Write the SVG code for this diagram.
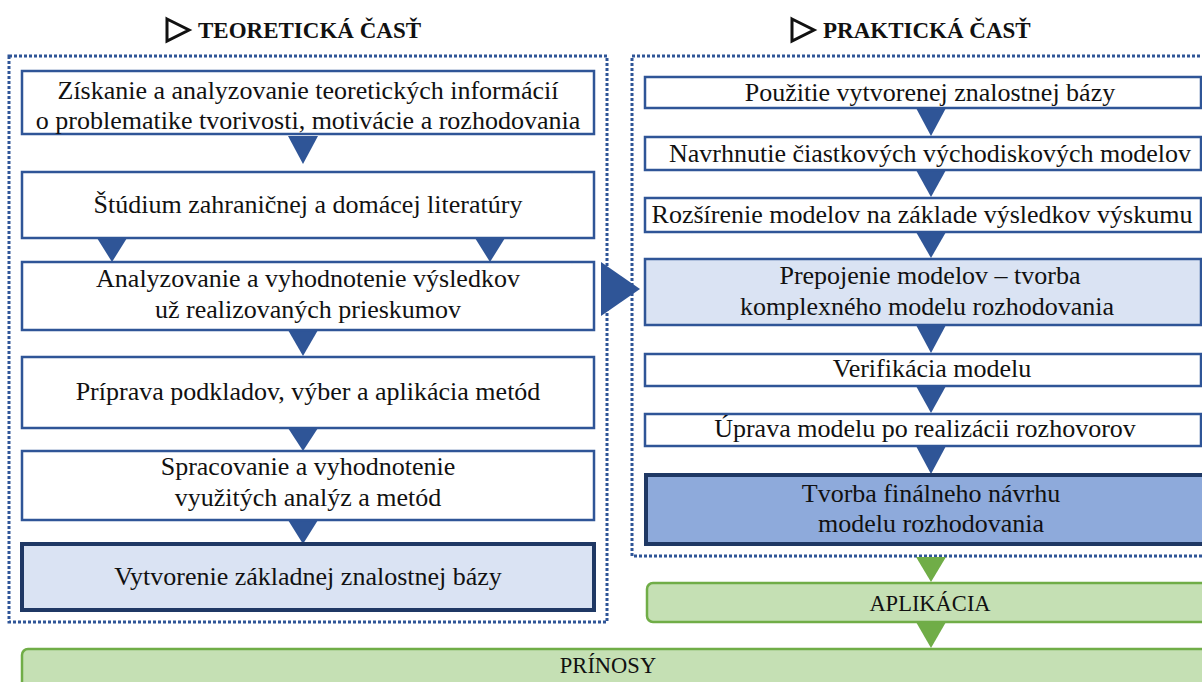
<svg xmlns="http://www.w3.org/2000/svg" width="1202" height="682" viewBox="0 0 1202 682">
  <style>
    .frame { fill: none; stroke: #2f5597; stroke-width: 3; stroke-dasharray: 3 2; }
    .box { fill: #ffffff; stroke: #2f5597; stroke-width: 2.5; }
    .light { fill: #dae3f3; stroke: #2f5597; stroke-width: 2.5; }
    .keyLight { fill: #dae3f3; stroke: #1f3864; stroke-width: 4; }
    .keyDark { fill: #8eaadb; stroke: #1f3864; stroke-width: 4; }
    .green { fill: #c5e0b4; stroke: #70ad47; stroke-width: 2.5; }
    .arr { fill: #2f5597; }
    .garr { fill: #70ad47; }
    .t { font-family: "Liberation Serif", "Times New Roman", serif; font-size: 26px; fill: #111111; text-anchor: middle; dominant-baseline: central; }
    .s { font-size: 22.5px; }
    .h { font-family: "Liberation Serif", "Times New Roman", serif; font-size: 23px; font-weight: bold; fill: #111111; }
    .tri { fill: none; stroke: #111111; stroke-width: 3; stroke-linejoin: miter; }
  </style>

  <!-- section headings -->
  <g id="head-theory">
    <polygon class="tri" points="167,19 189,30 167,41"/>
    <text class="h" x="198" y="38">TEORETICKÁ ČASŤ</text>
  </g>
  <g id="head-practice">
    <polygon class="tri" points="792,19 814,30 792,41"/>
    <text class="h" x="823" y="38">PRAKTICKÁ ČASŤ</text>
  </g>

  <!-- dotted section frames -->
  <rect class="frame" x="9" y="56" width="598" height="566"/>
  <rect class="frame" x="632" y="56" width="580" height="500"/>

  <!-- connectors -->
  <g id="connectors">
    <polygon class="arr" points="288,136 318,136 303,164"/>
    <polygon class="arr" points="97,238 127,238 112,262"/>
    <polygon class="arr" points="475,238 505,238 490,262"/>
    <polygon class="arr" points="288,330 318,330 303,356"/>
    <polygon class="arr" points="288,428 318,428 303,451"/>
    <polygon class="arr" points="288,520 318,520 303,544"/>
    <polygon class="arr" points="601,262 640,289 601,316"/>

    <polygon class="arr" points="916,108 946,108 931,136"/>
    <polygon class="arr" points="916,170 946,170 931,197"/>
    <polygon class="arr" points="916,232 946,232 931,258"/>
    <polygon class="arr" points="916,325 946,325 931,353"/>
    <polygon class="arr" points="916,386 946,386 931,413"/>
    <polygon class="arr" points="916,446 946,446 931,474"/>

    <polygon class="garr" points="916,557 946,557 931,582"/>
    <polygon class="garr" points="916,622 946,622 931,648"/>
  </g>

  <!-- theory steps -->
  <g id="t1">
    <rect class="box" x="22" y="71" width="572" height="63"/>
    <text class="t" x="308" y="90">Získanie a analyzovanie teoretických informácií</text>
    <text class="t" x="308" y="120">o problematike tvorivosti, motivácie a rozhodovania</text>
  </g>
  <g id="t2">
    <rect class="box" x="22" y="172" width="572" height="66"/>
    <text class="t" x="308" y="204">Štúdium zahraničnej a domácej literatúry</text>
  </g>
  <g id="t3">
    <rect class="box" x="22" y="262" width="572" height="68"/>
    <text class="t" x="308" y="278">Analyzovanie a vyhodnotenie výsledkov</text>
    <text class="t" x="308" y="309">už realizovaných prieskumov</text>
  </g>
  <g id="t4">
    <rect class="box" x="22" y="357" width="572" height="71"/>
    <text class="t" x="308" y="391">Príprava podkladov, výber a aplikácia metód</text>
  </g>
  <g id="t5">
    <rect class="box" x="22" y="451" width="572" height="69"/>
    <text class="t" x="308" y="466">Spracovanie a vyhodnotenie</text>
    <text class="t" x="308" y="497">využitých analýz a metód</text>
  </g>
  <g id="t6">
    <rect class="keyLight" x="22" y="544" width="572" height="66"/>
    <text class="t" x="308" y="576">Vytvorenie základnej znalostnej bázy</text>
  </g>

  <!-- practice steps -->
  <g id="p1">
    <rect class="box" x="645" y="77" width="556" height="31"/>
    <text class="t" x="930" y="92">Použitie vytvorenej znalostnej bázy</text>
  </g>
  <g id="p2">
    <rect class="box" x="645" y="137" width="556" height="33"/>
    <text class="t" x="930" y="153">Navrhnutie čiastkových východiskových modelov</text>
  </g>
  <g id="p3">
    <rect class="box" x="645" y="198" width="556" height="34"/>
    <text class="t" x="922" y="214">Rozšírenie modelov na základe výsledkov výskumu</text>
  </g>
  <g id="p4">
    <rect class="light" x="645" y="259" width="556" height="66"/>
    <text class="t" x="930" y="275">Prepojenie modelov – tvorba</text>
    <text class="t" x="927" y="306">komplexného modelu rozhodovania</text>
  </g>
  <g id="p5">
    <rect class="box" x="645" y="354" width="556" height="32"/>
    <text class="t" x="932" y="368">Verifikácia modelu</text>
  </g>
  <g id="p6">
    <rect class="box" x="645" y="414" width="556" height="32"/>
    <text class="t" x="925" y="428">Úprava modelu po realizácii rozhovorov</text>
  </g>
  <g id="p7">
    <rect class="keyDark" x="646" y="475" width="560" height="69"/>
    <text class="t" x="931" y="493">Tvorba finálneho návrhu</text>
    <text class="t" x="931" y="523">modelu rozhodovania</text>
  </g>

  <!-- outcomes -->
  <g id="aplikacia">
    <rect class="green" x="647" y="583" width="560" height="39" rx="6"/>
    <text class="t s" x="930" y="603">APLIKÁCIA</text>
  </g>
  <g id="prinosy">
    <rect class="green" x="22" y="649" width="1185" height="40" rx="6"/>
    <text class="t s" x="608" y="665">PRÍNOSY</text>
  </g>
</svg>
